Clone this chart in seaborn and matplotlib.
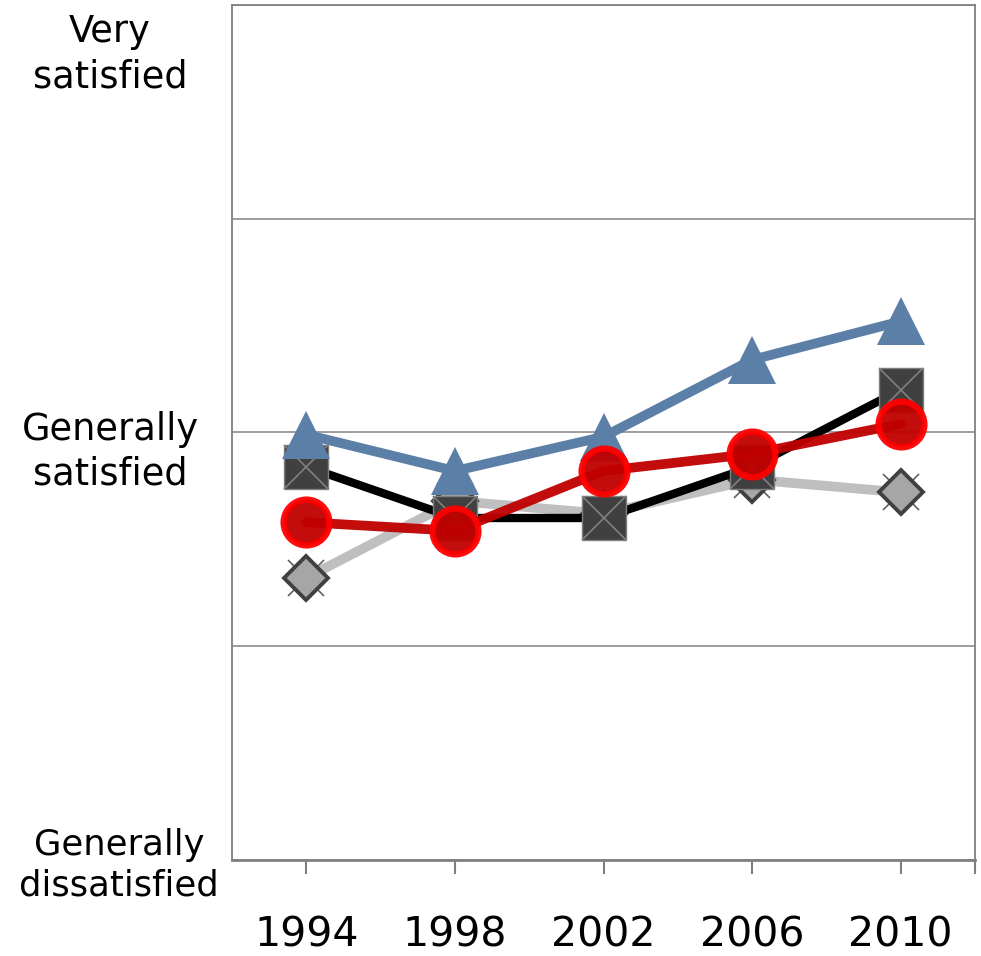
import matplotlib
matplotlib.use("Agg")
import matplotlib.pyplot as plt
import seaborn as sns
import pandas as pd

# Values (2 = generally dissatisfied, 3 = generally satisfied, 4 = very satisfied)
years = ["1994", "1998", "2002", "2006", "2010"]
blue_vals = [2.995, 2.91, 2.99, 3.17, 3.26]
black_vals = [2.92, 2.80, 2.80, 2.92, 3.10]
red_vals = [2.79, 2.77, 2.91, 2.95, 3.02]
gray_vals = [2.66, 2.84, 2.81, 2.89, 2.86]

level_ticks = [2, 3, 4]
level_labels = ["Generally\ndissatisfied", "Generally\nsatisfied", "Very\nsatisfied"]

sns.set_theme(style="white")
plt.rcParams["font.family"] = ["DejaVu Sans"]
plt.rcParams["text.color"] = "black"
plt.rcParams["xtick.color"] = "black"

fig = plt.figure(figsize=(9.81, 9.56), dpi=100)
ax = fig.add_axes([0.2365, 0.1004, 0.7574, 0.8944])

df = pd.DataFrame({"year": years, "blue": blue_vals, "black": black_vals,
                   "red": red_vals, "gray": gray_vals})

# gray series with diamonds (bottom)
ax.plot(df["year"], df["gray"], linestyle="none", marker="x", ms=26, mew=1.2,
        mec="#606060", zorder=2)
sns.lineplot(data=df, x="year", y="gray", ax=ax, color="#BFBFBF", linewidth=7,
             marker="D", ms=22, mfc="#A6A6A6", mec="#404040", mew=2.8, zorder=3)

# black series with squares
sns.lineplot(data=df, x="year", y="black", ax=ax, color="#000000", linewidth=6,
             marker="s", ms=32, mfc="#404040", mec="#7F7F7F", mew=1.0, zorder=4)
ax.plot(df["year"], df["black"], linestyle="none", marker="x", ms=32, mew=1.2,
        mec="#808080", zorder=4.5)

# blue series with triangles
sns.lineplot(data=df, x="year", y="blue", ax=ax, color="#5B7FA7", linewidth=7,
             marker="^", ms=34, mfc="#5B7FA7", mec="#5B7FA7", mew=0, zorder=5)

# red series with circles (top)
sns.lineplot(data=df, x="year", y="red", ax=ax, color="#C00000", linewidth=7, alpha=0.95,
             marker="o", ms=33, mfc="#C00000", mec=(1, 0, 0, 0.8), mew=4.5, zorder=6)

ax.set_xlim(-0.5, 4.5)
ax.set_ylim(2, 4)
ax.set_xlabel("")
ax.set_ylabel("")

ax.set_xticks(range(len(years)))
ax.set_xticklabels(years, fontsize=29.5)
ax.set_xticks([4.5], minor=True)
ax.tick_params(axis="x", which="both", direction="out", length=10, width=1.5,
               color="#808080", bottom=True, pad=30)

ax.set_yticks([2, 2.5, 3, 3.5, 4])
ax.set_yticklabels([])
ax.tick_params(axis="y", length=0)
ax.grid(axis="y", color="#8C8C8C", lw=1.2)
ax.grid(axis="x", visible=False)

for s in ax.spines.values():
    s.set_color("#808080")
    s.set_linewidth(1.3)
ax.spines["bottom"].set_linewidth(2)

# y level labels, placed like the reference
label_pos = {2: (-1.26, 1.988, 25.5), 3: (-1.32, 2.955, 26.5), 4: (-1.32, 3.885, 26.5)}
for lv, lab in zip(level_ticks, level_labels):
    lx, ly, fs = label_pos[lv]
    ax.text(lx, ly, lab, ha="center", va="center", fontsize=fs,
            linespacing=1.27, transform=ax.transData, clip_on=False)

fig.savefig("out.png", dpi=100)
